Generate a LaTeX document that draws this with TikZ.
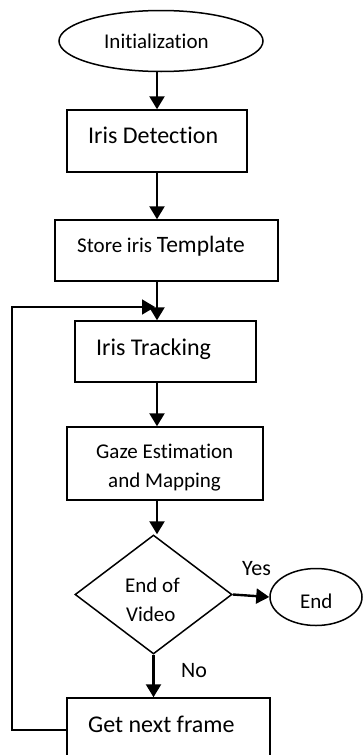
\documentclass[tikz,border=0pt]{standalone}
\usepackage{fontspec}
\setmainfont[Ligatures=NoCommon]{Carlito}
\usetikzlibrary{shapes.geometric,arrows.meta}
\begin{document}
\begin{tikzpicture}[x=1pt,y=-1pt,
  shapeline/.style={draw=black,line width=1.5pt,inner sep=0pt},
  box/.style={shapeline,rectangle},
  oval/.style={shapeline,ellipse},
  dia/.style={shapeline,diamond},
  arr/.style={line width=2.4pt,-{Triangle[length=13pt,width=15pt]}},
  looparr/.style={line width=1.6pt,-{Triangle[length=13pt,width=15pt]}},
  sm/.style={inner sep=0pt,anchor=base west,font=\fontsize{21}{24}\selectfont},
  lg/.style={inner sep=0pt,anchor=base west,font=\fontsize{24}{28}\selectfont},
]
\useasboundingbox (0,0) rectangle (364,755);
\clip (0,0) rectangle (364,755);
% shapes
\node[oval,minimum width=204pt,minimum height=61pt] (init) at (161,41) {};
\node[box,minimum width=180pt,minimum height=62pt] (det) at (157,141) {};
\node[box,minimum width=223pt,minimum height=61pt] (store) at (166.5,250.5) {};
\node[box,minimum width=181pt,minimum height=61pt] (track) at (165.5,351.5) {};
\node[box,minimum width=196pt,minimum height=73pt] (gaze) at (165,463.5) {};
\node[dia,minimum width=157pt,minimum height=119pt] (dec) at (153.5,594.5) {};
\node[oval,minimum width=92pt,minimum height=57pt] (end) at (316,597) {};
\node[box,minimum width=203pt,minimum height=72pt] (next) at (168.5,734) {};
% texts
\node[sm] (tinit) at (104,48) {Initialization};
\node[lg] (tdet) at (88,143) {Iris Detection};
\node[sm] (tstore) at (77,252) {Store iris {\fontsize{23.5}{28}\selectfont Template}};
\node[lg] (ttrack) at (96,355) {Iris Tracking};
\node[sm] (tgaze1) at (96,458) {Gaze Estimation};
\node[sm] (tgaze2) at (108,487) {and Mapping};
\node[sm] (tdec1) at (125,592) {End of};
\node[sm] (tdec2) at (126,621) {Video};
\node[sm] (tend) at (300,608) {End};
\node[sm,font=\fontsize{22}{26}\selectfont] (tyes) at (242,575) {Yes};
\node[sm,font=\fontsize{22}{26}\selectfont] (tno) at (181,677) {No};
\node[lg] (tnext) at (88,732) {Get next frame};
% axis and loop coordinates
\coordinate (ax) at (157,0);
\coordinate (lx) at (12,0);
\coordinate (ly) at (0,307);
% connectors
\draw[arr] (ax |- init.south) -- (ax |- det.north);
\draw[arr] (ax |- det.south) -- (ax |- store.north);
\draw[arr] (ax |- store.south) -- (ax |- track.north);
\draw[arr] (ax |- track.south) -- (ax |- gaze.north);
\draw[arr] (ax |- gaze.south) -- (ax |- dec.north);
\draw[arr] (dec.east) -- (end.west);
\draw[arr] (dec.south) -- (dec.south |- next.north);
\draw[looparr] (next.west |- 0,730) -- (lx |- 0,730) -- (lx |- ly) -- ([xshift=-2pt]ax |- ly);
\end{tikzpicture}
\end{document}
